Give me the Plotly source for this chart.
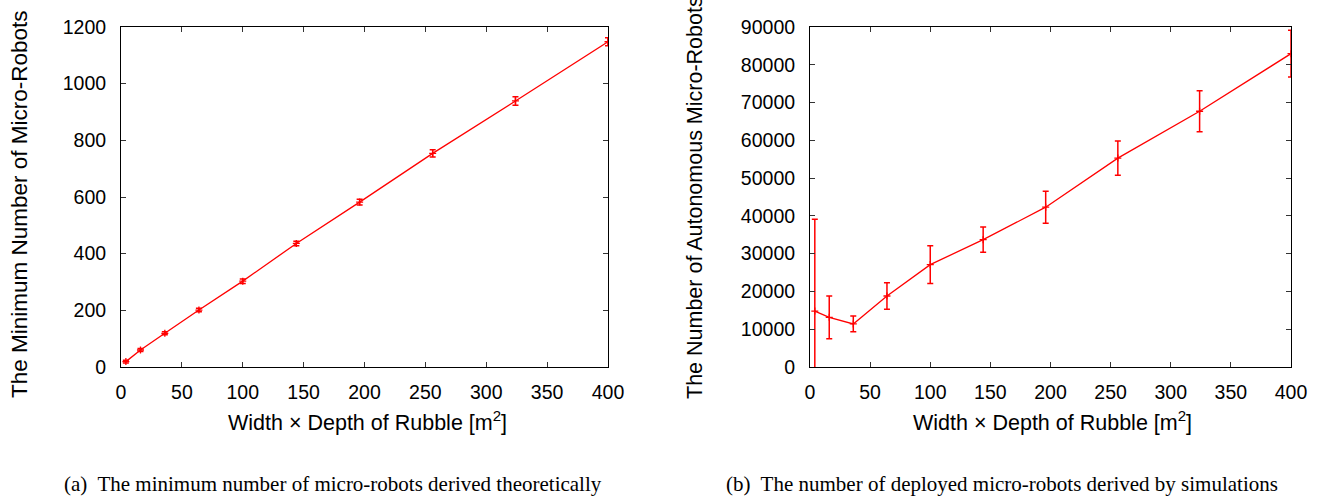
import plotly.graph_objects as go

# Rubble floor area (width x depth) in m^2
area = [4, 16, 36, 64, 100, 144, 196, 256, 324, 400]

# (a) theoretical minimum number of micro-robots
min_robots = [19, 60, 119, 201, 303, 436, 582, 754, 939, 1148]
min_err = [5, 5, 5, 6, 8, 8, 10, 13, 15, 14]

# (b) number of deployed micro-robots from simulations
sim_robots = [14800, 13150, 11400, 18800, 27100, 33700, 42300, 55300, 67700, 82950]
sim_err = [24300, 5650, 2100, 3500, 5000, 3350, 4250, 4550, 5400, 6200]

x_ticks = [0, 50, 100, 150, 200, 250, 300, 350, 400]
y_ticks_a = [0, 200, 400, 600, 800, 1000, 1200]
y_ticks_b = [0, 10000, 20000, 30000, 40000, 50000, 60000, 70000, 80000, 90000]

W, H = 1325, 497
RED = "#ff0000"
FONT = "Liberation Sans, Arial, Helvetica, sans-serif"
SERIF = "Liberation Serif, Times New Roman, serif"


def px_x(p):
    return p / W


def px_y(p):
    return 1 - p / H


fig = go.Figure()

for xa, ya, yv, ev in (("x", "y", min_robots, min_err), ("x2", "y2", sim_robots, sim_err)):
    fig.add_trace(go.Scatter(
        x=area, y=yv, mode="lines+markers",
        line=dict(color=RED, width=1.3),
        marker=dict(symbol="cross-thin", size=5, line=dict(color=RED, width=1.3)),
        error_y=dict(type="data", array=ev, color=RED, thickness=1.5, width=3),
        xaxis=xa, yaxis=ya, showlegend=False,
    ))

axis_common = dict(
    showline=True, linecolor="black", linewidth=1, mirror="allticks",
    ticks="inside", ticklen=5, tickcolor="#333", tickwidth=1,
    showgrid=False, zeroline=False, automargin=False,
    tickfont=dict(family=FONT, size=19.5, color="black"),
)

fig.update_layout(
    width=W, height=H,
    margin=dict(l=0, r=0, t=0, b=0),
    paper_bgcolor="white", plot_bgcolor="white",
    xaxis=dict(axis_common, domain=[px_x(121), px_x(608)], range=[0, 400],
               tickvals=x_ticks, anchor="y", ticklabelstandoff=8),
    yaxis=dict(axis_common, domain=[px_y(367), px_y(27)], range=[0, 1200],
               tickvals=y_ticks_a, anchor="x", ticklabelstandoff=10),
    xaxis2=dict(axis_common, domain=[px_x(810), px_x(1291)], range=[0, 400],
                tickvals=x_ticks, anchor="y2", ticklabelstandoff=8),
    yaxis2=dict(axis_common, domain=[px_y(367), px_y(27)], range=[0, 90000],
                tickvals=y_ticks_b, tickformat="d", anchor="x2", ticklabelstandoff=10),
)

# axis titles
x_title = "Width \u00d7 Depth of Rubble [m<sup>2</sup>]"
title_font = dict(family=FONT, size=21.5, color="black")

for cx in (367, 1052):
    fig.add_annotation(text=x_title, x=px_x(cx), y=px_y(421), xref="paper", yref="paper",
                       xanchor="center", yanchor="middle", showarrow=False, font=title_font)

fig.add_annotation(text="The Minimum Number of Micro-Robots", textangle=-90,
                   x=px_x(19), y=px_y(204), xref="paper", yref="paper",
                   xanchor="center", yanchor="middle", showarrow=False,
                   font=dict(family=FONT, size=22.5, color="black"))
fig.add_annotation(text="The Number of Autonomous Micro-Robots", textangle=-90,
                   x=px_x(695), y=px_y(198), xref="paper", yref="paper",
                   xanchor="center", yanchor="middle", showarrow=False,
                   font=dict(family=FONT, size=21.5, color="black"))

# sub-figure captions
caption_font = dict(family=SERIF, size=21, color="black")
fig.add_annotation(text="(a)  The minimum number of micro-robots derived theoretically",
                   x=px_x(333), y=px_y(484), xref="paper", yref="paper",
                   xanchor="center", yanchor="middle", showarrow=False, font=caption_font)
fig.add_annotation(text="(b)  The number of deployed micro-robots derived by simulations",
                   x=px_x(1002), y=px_y(484), xref="paper", yref="paper",
                   xanchor="center", yanchor="middle", showarrow=False, font=caption_font)

fig.write_html("out.html")
